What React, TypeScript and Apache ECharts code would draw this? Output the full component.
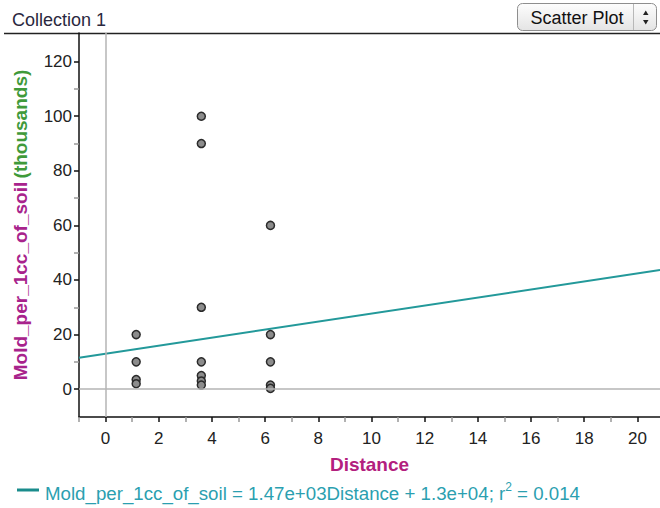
import React, { useEffect, useRef } from "react";
import * as echarts from "echarts";

const distance = [1.15, 1.15, 1.15, 1.15, 3.6, 3.6, 3.6, 3.6, 3.6, 3.6, 3.6, 6.2, 6.2, 6.2, 6.2, 6.2];
const mold = [20, 10, 3.5, 2, 100, 90, 30, 10, 5, 3, 1.5, 60, 20, 10, 1.5, 0.3];

const fitX = [-1, 20.85];
const fitY = [11.53, 43.65];

const xMajorTicks = [0, 2, 4, 6, 8, 10, 12, 14, 16, 18, 20];
const xMinorTicks = [-1, 1, 3, 5, 7, 9, 11, 13, 15, 17, 19];
const yMajorTicks = [0, 20, 40, 60, 80, 100, 120];
const yMinorTicks = [10, 30, 50, 70, 90, 110];

const FONT = "'Liberation Sans', Arial, sans-serif";

export default function App() {
  const ref = useRef<HTMLDivElement>(null);
  useEffect(() => {
    if (!ref.current) return;
    const chart = echarts.init(ref.current, undefined, { renderer: "svg" });
    const xMin = -1, xMax = 20.85, yMin = -10.2, yMax = 130.5;
    const option: any = {
      animation: false,
      backgroundColor: "#fff",
      textStyle: { fontFamily: FONT },
      grid: { left: 79, right: 0, top: 33, bottom: 91, containLabel: false },
      xAxis: [
        {
          type: "value",
          min: xMin,
          max: xMax,
          position: "bottom",
          axisLine: { show: true, onZero: false, lineStyle: { color: "#111", width: 1.5 } },
          axisTick: { show: true, customValues: xMajorTicks, length: 5, lineStyle: { color: "#111", width: 1.5 } },
          axisLabel: { customValues: xMajorTicks, margin: 13, fontSize: 17, color: "#222", fontFamily: FONT },
          splitLine: { show: false },
          name: "Distance",
          nameLocation: "middle",
          nameGap: 38,
          nameTextStyle: { color: "#b3207e", fontWeight: "bold", fontSize: 19, fontFamily: FONT },
        },
        {
          type: "value",
          min: xMin,
          max: xMax,
          position: "bottom",
          axisLine: { show: false, onZero: false },
          axisTick: { show: true, customValues: xMinorTicks, length: 5, lineStyle: { color: "#999", width: 1.5 } },
          axisLabel: { show: false },
          splitLine: { show: false },
        },
      ],
      yAxis: [
        {
          type: "value",
          min: yMin,
          max: yMax,
          position: "left",
          axisLine: { show: true, onZero: false, lineStyle: { color: "#111", width: 1.5 } },
          axisTick: { show: true, customValues: yMajorTicks, length: 5, lineStyle: { color: "#111", width: 1.5 } },
          axisLabel: { customValues: yMajorTicks, margin: 7, fontSize: 17, color: "#222", fontFamily: FONT },
          splitLine: { show: false },
          name: "{a|Mold_per_1cc_of_soil} {b|(thousands)}",
          nameLocation: "middle",
          nameRotate: 90,
          nameGap: 49,
          nameTextStyle: {
            fontFamily: FONT,
            rich: {
              a: { color: "#a8238c", fontWeight: "bold", fontSize: 19, fontFamily: FONT },
              b: { color: "#3f9a3a", fontWeight: "bold", fontSize: 19, fontFamily: FONT },
            },
          },
        },
        {
          type: "value",
          min: yMin,
          max: yMax,
          position: "left",
          axisLine: { show: false, onZero: false },
          axisTick: { show: true, customValues: yMinorTicks, length: 5, lineStyle: { color: "#999", width: 1.5 } },
          axisLabel: { show: false },
          splitLine: { show: false },
        },
      ],
      series: [
        {
          type: "line",
          z: 2,
          data: fitX.map((x, i) => [x, fitY[i]]),
          showSymbol: false,
          symbol: "none",
          lineStyle: { color: "#23999a", width: 2 },
          silent: true,
          markLine: {
            silent: true,
            symbol: "none",
            label: { show: false },
            lineStyle: { color: "#b4b4b4", width: 1.5, type: "solid" },
            data: [{ xAxis: 0 }, { yAxis: 0 }],
          },
        },
        {
          type: "scatter",
          z: 3,
          data: distance.map((d, i) => [d, mold[i]]),
          symbol: "circle",
          symbolSize: 8,
          itemStyle: { color: "#8c8c8c", borderColor: "#2a2a2a", borderWidth: 1.5, opacity: 1 },
        },
      ],
      graphic: [
        {
          type: "text",
          x: 12,
          y: 20,
          style: { text: "Collection 1", fontSize: 18, fill: "#2a2840", fontFamily: FONT, verticalAlign: "middle" },
        },
        {
          type: "line",
          shape: { x1: 4, y1: 33.5, x2: 660, y2: 33.5 },
          style: { stroke: "#222", lineWidth: 1.5 },
        },
        {
          type: "rect",
          shape: { x: 517.5, y: 3.5, width: 139, height: 27, r: 5 },
          style: {
            fill: new echarts.graphic.LinearGradient(0, 0, 0, 1, [
              { offset: 0, color: "#fdfdfd" },
              { offset: 1, color: "#e4e4e4" },
            ]),
            stroke: "#8e8e8e",
            lineWidth: 1,
          },
        },
        {
          type: "line",
          shape: { x1: 633.5, y1: 4, x2: 633.5, y2: 30 },
          style: { stroke: "#b8b8b8", lineWidth: 1 },
        },
        {
          type: "text",
          x: 577,
          y: 17.5,
          style: { text: "Scatter Plot", fontSize: 18, fill: "#111", fontFamily: FONT, align: "center", verticalAlign: "middle" },
        },
        {
          type: "polygon",
          shape: { points: [[643, 15], [648.5, 15], [645.75, 10.5]] },
          style: { fill: "#222" },
        },
        {
          type: "polygon",
          shape: { points: [[643, 20], [648.5, 20], [645.75, 24.5]] },
          style: { fill: "#222" },
        },
        {
          type: "line",
          shape: { x1: 17, y1: 490, x2: 39, y2: 490 },
          style: { stroke: "#1a8c8c", lineWidth: 3 },
        },
        {
          type: "text",
          x: 45,
          y: 492,
          style: {
            text: "{m|Mold_per_1cc_of_soil = 1.47e+03Distance + 1.3e+04; r}{s|2}{m| = 0.014}",
            verticalAlign: "middle",
            rich: {
              m: { fontSize: 18.7, fill: "#2b9fb0", fontFamily: FONT, lineHeight: 22, verticalAlign: "bottom" },
              s: { fontSize: 12, fill: "#2b9fb0", fontFamily: FONT, lineHeight: 22, verticalAlign: "top", padding: [0, 0, 6, 0] },
            },
          },
        },
      ],
    };
    chart.setOption(option);
    return () => chart.dispose();
  }, []);
  return (
    <div
      ref={ref}
      style={{ position: "fixed", left: 0, top: 0, width: 660, height: 508, background: "#fff" }}
    />
  );
}
